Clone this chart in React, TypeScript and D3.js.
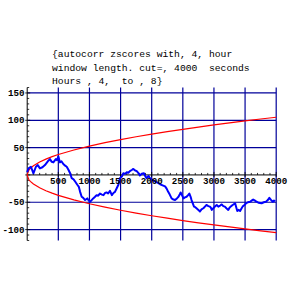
import React from "react";
import * as d3 from "d3";

const titleLines = [
  "{autocorr zscores with, 4, hour",
  "window length. cut=, 4000  seconds",
  "Hours , 4,  to , 8}",
];

const xTicks = [500, 1000, 1500, 2000, 2500, 3000, 3500, 4000];
const yTicks = [-100, -50, 50, 100, 150];

const boundX = [0, 25, 50, 100, 200, 300, 400, 500, 750, 1000, 1250, 1500, 1750, 2000, 2250, 2500, 2750, 3000, 3250, 3500, 3750, 4000];
const boundY = [0, 8.4, 11.8, 16.7, 23.6, 28.9, 33.4, 37.3, 45.7, 52.8, 59, 64.7, 69.9, 74.7, 79.2, 83.5, 87.6, 91.5, 95.2, 98.8, 102.3, 105.6];

const seriesX = [0, 20, 60, 100, 140, 170, 205, 245, 285, 340, 365, 395, 420, 460, 480, 500, 525, 550, 580, 610, 635, 660, 690, 715, 745, 770, 805, 830, 850, 875, 900, 930, 965, 990, 1010, 1035, 1060, 1090, 1115, 1140, 1170, 1200, 1225, 1250, 1275, 1300, 1330, 1360, 1385, 1410, 1440, 1465, 1490, 1520, 1545, 1575, 1600, 1625, 1650, 1680, 1705, 1735, 1760, 1790, 1810, 1840, 1875, 1900, 1920, 1950, 1975, 2010, 2055, 2095, 2135, 2175, 2215, 2240, 2265, 2290, 2320, 2350, 2375, 2405, 2430, 2450, 2465, 2490, 2510, 2535, 2560, 2585, 2605, 2625, 2640, 2660, 2680, 2700, 2720, 2750, 2775, 2800, 2830, 2855, 2880, 2910, 2935, 2950, 2965, 2990, 3015, 3045, 3070, 3100, 3125, 3150, 3175, 3200, 3230, 3250, 3270, 3300, 3340, 3360, 3375, 3400, 3420, 3440, 3460, 3490, 3515, 3545, 3580, 3605, 3630, 3660, 3685, 3720, 3765, 3800, 3835, 3865, 3890, 3920, 3945, 3965, 3985];
const seriesY = [5, 12, 15, 3, 15, 18, 12, 14, 18, 26, 29, 24, 23, 29, 27, 34, 23, 25, 20, 17, 15, 10, 3, -6, -8, -12, -18, -22, -31, -40, -42, -46, -43, -47, -49, -46, -43, -40, -37, -38, -34, -36, -37, -33, -32, -34, -29, -37, -33, -31, -24, -18, -6, -3, 3, 2, 5, 4, 7, 9, 11, 8, 7, 3, -1, 2, 3, -3, -6, -2, -6, -9, -12, -14, -17, -19, -21, -25, -31, -36, -43, -45, -46, -43, -40, -36, -32, -38, -43, -41, -40, -37, -34, -40, -46, -52, -58, -59, -61, -64, -67, -63, -61, -58, -55, -57, -58, -60, -64, -61, -58, -55, -58, -56, -54, -57, -58, -61, -64, -60, -58, -55, -52, -60, -66, -64, -66, -62, -58, -55, -52, -50, -49, -47, -45, -47, -49, -51, -52, -50, -49, -46, -42, -46, -49, -47, -48];

export default function App() {
  const x = d3.scaleLinear().domain([0, 4000]).range([27.2, 276.2]);
  const y = d3.scaleLinear().domain([-120, 160]).range([240.5, 87.5]);

  const upper = d3.line<number>().x((_, i) => x(boundX[i])).y((d) => y(d));
  const lower = d3.line<number>().x((_, i) => x(boundX[i])).y((d) => y(-d));
  const blue = d3.line<number>().x((_, i) => x(seriesX[i])).y((d) => y(d));

  const grid = "#00009a";
  const minorY = d3.range(-120, 161, 10);
  const minorX = d3.range(100, 4001, 100);

  return (
    <svg width={288} height={288} style={{ position: "absolute", left: 0, top: 0, background: "#fff" }}>
      <rect width={288} height={288} fill="#fff" />
      {xTicks.map((t) => (
        <line key={"gx" + t} x1={x(t)} x2={x(t)} y1={y(160)} y2={y(-120)} stroke={grid} strokeWidth={1.2} />
      ))}
      {yTicks.map((t) => (
        <line key={"gy" + t} x1={x(0)} x2={x(4000)} y1={y(t)} y2={y(t)} stroke={grid} strokeWidth={1.2} />
      ))}
      {/* axes */}
      <line x1={x(0)} x2={x(0)} y1={y(160)} y2={y(-120)} stroke="#000" strokeWidth={1} />
      <line x1={x(0)} x2={x(4000)} y1={y(0)} y2={y(0)} stroke="#000" strokeWidth={1} />
      {minorY.map((t) => (
        <line key={"ty" + t} x1={x(0) - (t % 50 === 0 ? 2 : 0)} x2={x(0) + (t % 50 === 0 ? 3 : 2)} y1={y(t)} y2={y(t)} stroke="#000" strokeWidth={0.8} />
      ))}
      {minorX.map((t) => (
        <line key={"tx" + t} x1={x(t)} x2={x(t)} y1={y(0) - (t % 500 === 0 ? 3 : 2)} y2={y(0) + (t % 500 === 0 ? 2 : 0)} stroke="#000" strokeWidth={0.8} />
      ))}
      <path d={upper(boundY) || ""} fill="none" stroke="#ff0000" strokeWidth={1.2} />
      <path d={lower(boundY) || ""} fill="none" stroke="#ff0000" strokeWidth={1.2} />
      <path d={blue(seriesY) || ""} fill="none" stroke="#0000ff" strokeWidth={2} strokeLinejoin="round" />
      {xTicks.map((t) => (
        <text key={"lx" + t} x={x(t)} y={y(0) + 9.5} textAnchor="middle" fontFamily="Liberation Mono, monospace" fontWeight="bold" fontSize={9.2} fill="#000">
          {t}
        </text>
      ))}
      {yTicks.map((t) => (
        <text key={"ly" + t} x={24.5} y={y(t) + 3.2} textAnchor="end" fontFamily="Liberation Mono, monospace" fontWeight="bold" fontSize={9.2} fill="#000">
          {t}
        </text>
      ))}
      {titleLines.map((s, i) => (
        <text key={"t" + i} x={52} y={57 + i * 13.5} fontFamily="Liberation Mono, monospace" fontSize={9.7} fill="#000" style={{ whiteSpace: "pre" }} xmlSpace="preserve">
          {s}
        </text>
      ))}
    </svg>
  );
}
